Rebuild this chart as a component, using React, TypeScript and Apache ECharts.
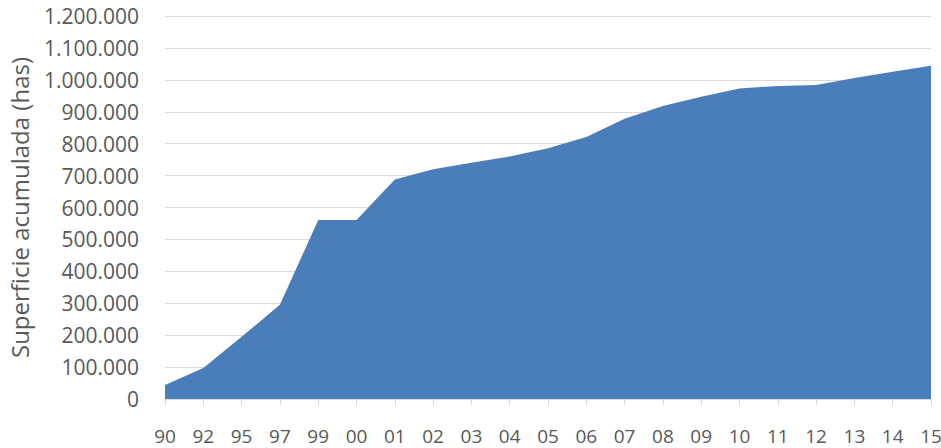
import React, { useEffect, useRef } from "react";
import * as echarts from "echarts";

// Year labels (two-digit) along the x axis
const years = [
  "90", "92", "95", "97", "99", "00", "01", "02", "03", "04", "05",
  "06", "07", "08", "09", "10", "11", "12", "13", "14", "15",
];

// Cumulative surface area (hectares)
const superficie = [
  44000, 97000, 195000, 295000, 561000, 561000, 688000, 720000, 740000,
  760000, 786000, 821000, 878000, 918000, 947000, 973000, 981000, 984000,
  1006000, 1025000, 1044000,
];

const yMax = 1200000;
const yStep = 100000;

const formatMiles = (v: number) =>
  String(Math.round(v)).replace(/\B(?=(\d{3})+(?!\d))/g, ".");

export default function App() {
  const ref = useRef<HTMLDivElement>(null);

  useEffect(() => {
    if (!ref.current) return;
    const chart = echarts.init(ref.current, undefined, { renderer: "svg" });
    const font = "'Open Sans', 'Noto Sans', sans-serif";
    chart.setOption({
      animation: false,
      backgroundColor: "#ffffff",
      grid: {
        left: 165,
        right: 10,
        top: 16,
        bottom: 49,
        containLabel: false,
        outerBoundsMode: "none",
      },
      xAxis: {
        type: "category",
        data: years,
        boundaryGap: false,
        axisLine: { show: true, lineStyle: { color: "#d9d9d9", width: 1 } },
        axisTick: {
          show: true,
          alignWithLabel: true,
          length: 6,
          lineStyle: { color: "#d9d9d9" },
        },
        axisLabel: {
          color: "#595959",
          fontFamily: font,
          fontSize: 19,
          margin: 27,
          interval: 0,
        },
        splitLine: { show: false },
      },
      yAxis: {
        type: "value",
        min: 0,
        max: yMax,
        interval: yStep,
        name: "Superficie acumulada (has)",
        nameLocation: "middle",
        nameGap: 134,
        nameTextStyle: {
          color: "#595959",
          fontFamily: font,
          fontSize: 24,
        },
        axisLine: { show: false },
        axisTick: { show: false },
        axisLabel: {
          color: "#595959",
          fontFamily: font,
          fontSize: 21,
          margin: 26,
          formatter: (v: number) => formatMiles(v),
        },
        splitLine: { show: true, lineStyle: { color: "#d9d9d9", width: 1 } },
      },
      series: [
        {
          type: "line",
          data: superficie,
          symbol: "none",
          lineStyle: { width: 0 },
          areaStyle: { color: "#4a7ebb", opacity: 1 },
          itemStyle: { color: "#4a7ebb" },
          z: 3,
        },
      ],
    });
    return () => chart.dispose();
  }, []);

  return (
    <div
      ref={ref}
      style={{ position: "absolute", left: 0, top: 0, width: 941, height: 448 }}
    />
  );
}
